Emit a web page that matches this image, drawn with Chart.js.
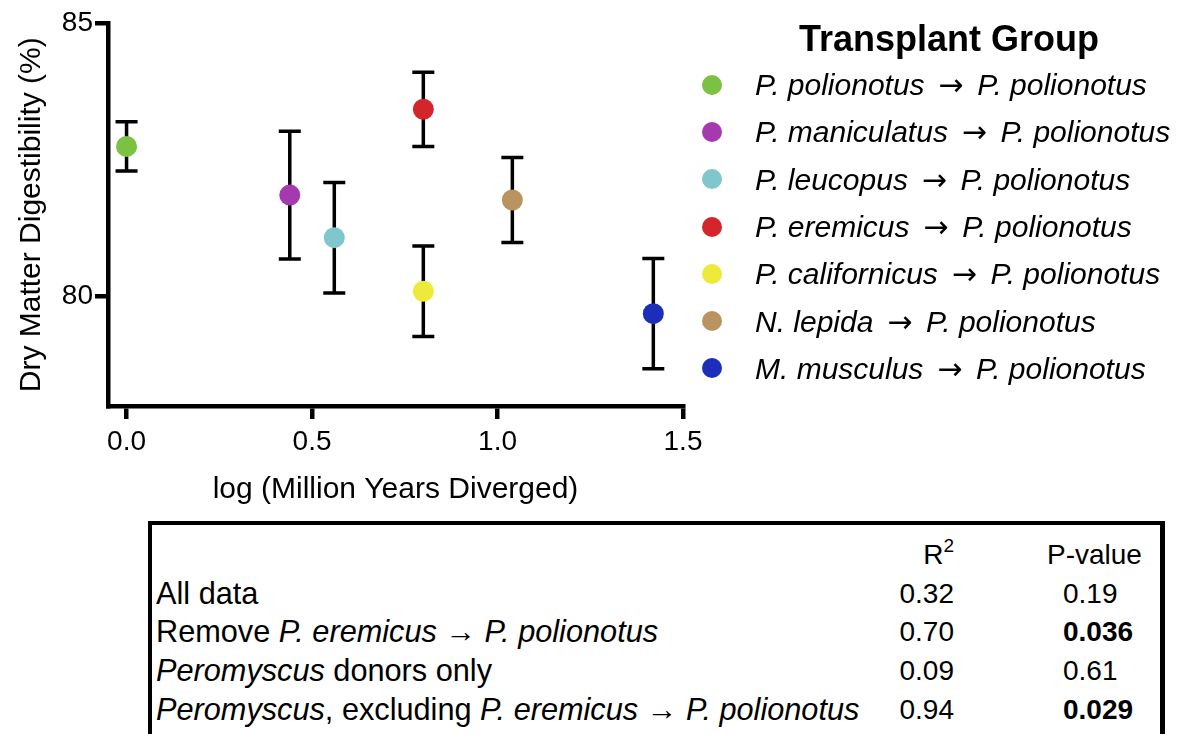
<!DOCTYPE html>
<html>
<head>
<meta charset="utf-8">
<script src="https://cdn.jsdelivr.net/npm/chart.js@4.4.1/dist/chart.umd.min.js"></script>
<style>
  body { margin: 0; background: #fff; font-family: "Liberation Sans", Arial, Helvetica, sans-serif; color: #000; }
  #wrap { position: relative; width: 1193px; height: 734px; overflow: hidden; }
  #plot { position: absolute; left: 0; top: 0; }
  #legendTitle { position: absolute; left: 700px; width: 498px; top: 19px; text-align: center;
    font-weight: bold; font-size: 36px; line-height: 40px; }
  #legend { position: absolute; left: 702px; top: 61px; }
  .item { height: 47.3px; display: flex; align-items: center; font-size: 30px; font-style: italic; white-space: nowrap; }
  .dot { width: 20px; height: 20px; border-radius: 50%; margin-right: 33px; flex: none; }
  .arr { display: inline-block; width: 36px; text-align: center; font-family: "DejaVu Sans", sans-serif;
    font-style: normal; font-size: 30px; }
  #stats { position: absolute; left: 148px; top: 521px; width: 1008px; height: 260px;
    border: 4px solid #000; border-right-width: 5px; }
  .row { position: absolute; left: 0; height: 38.7px; line-height: 38.7px; font-size: 28px; white-space: nowrap; width: 100%; }
  .lab { position: absolute; left: 4px; font-size: 30.7px; }
  .r2 { position: absolute; right: 206px; }
  .pv { position: absolute; left: 911px; }
  .pvh { position: absolute; left: 895px; }
  sup { font-size: 19px; line-height: 0; vertical-align: 12px; }
</style>
</head>
<body>
<div id="wrap">
  <canvas id="plot" width="713" height="520"></canvas>
  <div id="legendTitle">Transplant Group</div>
  <div id="legend"></div>
  <div id="stats"></div>
</div>
<script>
// donor groups, all transplanted into P. polionotus
const donors = ["P. polionotus", "P. maniculatus", "P. leucopus", "P. eremicus", "P. californicus", "N. lepida", "M. musculus"];
const recipient = "P. polionotus";
const colors = ["#7bc142", "#a43aad", "#80c6cd", "#d4252a", "#eeea3a", "#b99461", "#1b2db9"];

// log (million years diverged) vs dry matter digestibility (%)
const divergence = [0.00, 0.44, 0.56, 0.80, 0.80, 1.04, 1.42];
const digestibility = [82.75, 81.86, 81.08, 83.43, 80.10, 81.77, 79.69];
const errors = [0.45, 1.17, 1.01, 0.68, 0.83, 0.78, 1.01];

const xTicks = [0, 0.5, 1.0, 1.5];
const yTicks = [80, 85];

// regression summary table
const statLabels = [
  "All data",
  "Remove <i>P. eremicus</i> → <i>P. polionotus</i>",
  "<i>Peromyscus</i> donors only",
  "<i>Peromyscus</i>, excluding <i>P. eremicus</i> → <i>P. polionotus</i>"
];
const r2Values = ["0.32", "0.70", "0.09", "0.94"];
const pValues = ["0.19", "0.036", "0.61", "0.029"];
const pBold = [false, true, false, true];

const FONT = "'Liberation Sans', Arial, Helvetica, sans-serif";

const errorBars = {
  id: "errorBars",
  beforeDatasetsDraw(chart) {
    const ctx = chart.ctx;
    const xs = chart.scales.x, ys = chart.scales.y;
    ctx.save();
    ctx.strokeStyle = "#000";
    ctx.lineWidth = 3.5;
    ctx.lineCap = "butt";
    divergence.forEach((d, i) => {
      const x = xs.getPixelForValue(d);
      const top = ys.getPixelForValue(digestibility[i] + errors[i]);
      const bot = ys.getPixelForValue(digestibility[i] - errors[i]);
      ctx.beginPath();
      ctx.moveTo(x, top); ctx.lineTo(x, bot);
      ctx.moveTo(x - 11, top); ctx.lineTo(x + 11, top);
      ctx.moveTo(x - 11, bot); ctx.lineTo(x + 11, bot);
      ctx.stroke();
    });
    ctx.restore();
  }
};

new Chart(document.getElementById("plot"), {
  type: "scatter",
  data: {
    datasets: [{
      data: divergence.map((d, i) => ({ x: d, y: digestibility[i] })),
      backgroundColor: colors,
      borderWidth: 0,
      pointRadius: 10.5
    }]
  },
  options: {
    responsive: false,
    animation: false,
    layout: { padding: { top: 23.5, right: 30, left: 0, bottom: 0 } },
    plugins: { legend: { display: false }, tooltip: { enabled: false } },
    scales: {
      x: {
        type: "linear",
        min: -0.05,
        max: 1.5,
        afterBuildTicks: axis => { axis.ticks = xTicks.map(v => ({ value: v })); },
        afterFit: axis => { axis.height = 114; },
        border: { display: true, color: "#000", width: 4.5 },
        grid: { drawOnChartArea: false, drawTicks: true, tickLength: 13, lineWidth: 4.5, color: "#000" },
        ticks: { color: "#000", padding: 6, font: { family: FONT, size: 28 },
          callback: v => v.toFixed(1), maxRotation: 0 },
        title: { display: true, text: "log (Million Years Diverged)", color: "#000",
          font: { family: FONT, size: 30 }, padding: { top: 0, bottom: 12 } }
      },
      y: {
        type: "linear",
        min: 78,
        max: 85,
        afterBuildTicks: axis => { axis.ticks = yTicks.map(v => ({ value: v })); },
        afterFit: axis => { axis.width = 108; },
        border: { display: true, color: "#000", width: 4.5 },
        grid: { drawOnChartArea: false, drawTicks: true, tickLength: 13, lineWidth: 4.5, color: "#000" },
        ticks: { color: "#000", padding: 2, font: { family: FONT, size: 28 } },
        title: { display: true, text: "Dry Matter Digestibility (%)", color: "#000",
          font: { family: FONT, size: 30 }, padding: { top: 14, bottom: 0 } }
      }
    }
  },
  plugins: [errorBars]
});

// legend
const legend = document.getElementById("legend");
donors.forEach((name, i) => {
  const row = document.createElement("div");
  row.className = "item";
  row.innerHTML = `<span class="dot" style="background:${colors[i]}"></span><span>${name} <span class="arr">→</span> ${recipient}</span>`;
  legend.appendChild(row);
});

// table
const stats = document.getElementById("stats");
const rowTop = 11;
const head = document.createElement("div");
head.className = "row";
head.style.top = rowTop + "px";
head.innerHTML = `<span class="r2">R<sup>2</sup></span><span class="pvh">P-value</span>`;
stats.appendChild(head);
statLabels.forEach((lab, i) => {
  const row = document.createElement("div");
  row.className = "row";
  row.style.top = (rowTop + 38.7 * (i + 1)) + "px";
  const p = pBold[i] ? `<b>${pValues[i]}</b>` : pValues[i];
  row.innerHTML = `<span class="lab">${lab}</span><span class="r2">${r2Values[i]}</span><span class="pv">${p}</span>`;
  stats.appendChild(row);
});
</script>
</body>
</html>
